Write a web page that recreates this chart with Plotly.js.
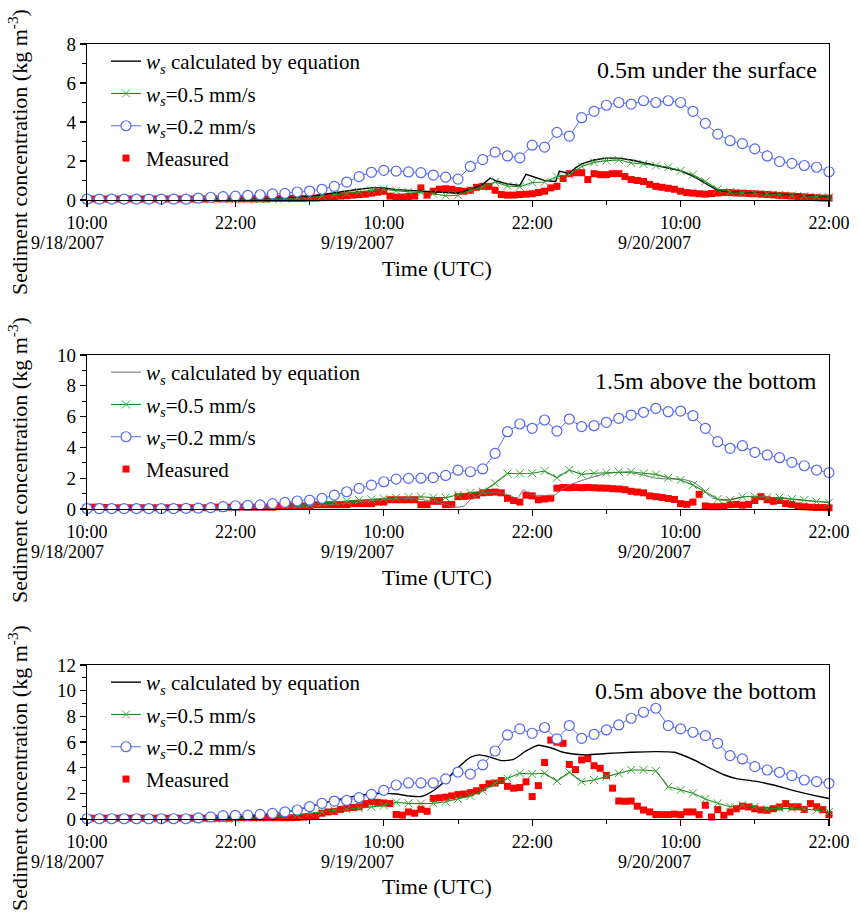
<!DOCTYPE html>
<html><head><meta charset="utf-8">
<script src="https://cdn.plot.ly/plotly-3.0.1.min.js"></script>
<style>html,body{margin:0;padding:0;background:#fff}#chart{width:859px;height:919px}</style>
</head><body><div id="chart"></div>
<script>
// ---------------- DATA ----------------
const tickHours = [0, 12, 24, 36, 48, 60];
const tickLabels = ["10:00", "22:00", "10:00", "22:00", "10:00", "22:00"];
const dateHours = [0, 24, 48];
const dateLabels = ["9/18/2007", "9/19/2007", "9/20/2007"];
const panelLabels = ["0.5m under the surface", "1.5m above the bottom", "0.5m above the bottom"];
const seriesNames = [
  "<i>w</i><sub><i>s</i></sub> calculated by equation",
  "<i>w</i><sub><i>s</i></sub>=0.5 mm/s",
  "<i>w</i><sub><i>s</i></sub>=0.2 mm/s",
  "Measured"
];
const yRanges = [8, 10, 12];

// hours after 10:00 9/18/2007 (hourly model output)
const hours = [0,1,2,3,4,5,6,7,8,9,10,11,12,13,14,15,16,17,18,19,20,21,22,23,24,25,26,27,28,29,30,
  31,32,33,34,35,36,37,38,39,40,41,42,43,44,45,46,47,48,49,50,51,52,53,54,55,56,57,58,59,60];
const measStep = 0.5; // measurements every half hour

// Panel 1: 0.5 m under the surface
const blue1 = [0.05,0.05,0.05,0.05,0.05,0.05,0.05,0.05,0.05,
  0.1,0.14,0.17,0.2,0.24,0.27,0.31,0.34,0.41,0.46,
  0.55,0.7,0.92,1.2,1.42,1.52,1.48,1.44,1.4,1.28,
  1.17,1.07,1.72,2.07,2.46,2.26,2.16,2.81,2.71,3.47,
  3.28,4.22,4.55,4.86,5.0,4.92,5.09,5.0,5.09,5.0,
  4.55,3.93,3.38,3.04,2.89,2.62,2.26,1.97,1.88,1.77,
  1.68,1.45];
const green1 = [0.02,0.02,0.02,0.02,0.02,0.02,0.02,0.02,0.02,0.02,0.02,0.02,0.02,
  0.03,0.04,0.05,0.07,0.1,0.13,0.2,0.27,0.33,0.42,
  0.5,0.55,0.48,0.42,0.38,0.32,0.22,0.24,0.5,0.66,
  0.92,0.72,0.68,0.9,0.92,1.2,1.3,1.72,1.93,2.02,
  2.06,1.9,1.85,1.76,1.68,1.5,1.3,0.95,0.55,0.42,
  0.37,0.33,0.3,0.27,0.23,0.2,0.17,0.14];
const blackT1 = [0,6,10,12,14,16,18,19,20,21,22,23,24,25,26,27,28,29,30,31,32,32.6,33,34,35,35.5,36,37,37.9,38.2,39,39.5,40,41,42,43,44,45,46,47,48,49,50,51,52,54,56,58,60];
const black1 = [0.01,0.01,0.02,0.04,0.06,0.1,
  0.18,0.28,0.38,0.46,0.55,0.62,0.62,0.53,0.5,0.47,0.43,0.38,0.35,0.55,0.8,
  1.12,1.0,0.82,0.75,1.32,1.2,1.0,0.95,1.48,1.35,1.65,
  1.85,2.05,2.15,2.15,2.05,1.92,1.76,1.66,1.5,1.22,0.85,0.5,0.42,
  0.36,0.3,0.22,0.15];
const meas1 = [0.05,0.05,0.05,0.05,0.05,0.05,0.05,0.05,0.05,0.05,0.05,0.05,0.05,0.05,0.05,0.05,0.05,0.05,0.05,0.05,
  0.06,0.06,0.06,0.06,0.06,0.06,0.06,0.06,0.06,0.06,
  0.08,0.08,0.08,0.08,0.08,0.08,
  0.1,0.1,0.12,0.14,0.17,0.2,0.22,0.25,0.28,0.3,0.35,0.4,0.45,
  0.2,0.15,0.15,0.18,0.2,0.62,0.25,0.45,0.55,0.58,0.55,0.48,
  0.45,0.5,0.65,0.7,0.7,0.5,0.28,0.25,0.25,0.28,0.3,0.32,
  0.38,0.45,0.62,0.7,1.1,1.35,1.4,1.4,1.05,1.35,1.3,1.3,
  1.35,1.35,1.2,1.05,1.0,0.95,0.8,0.7,0.65,0.6,0.55,0.45,
  0.38,0.35,0.32,0.3,0.33,0.36,0.38,0.38,0.36,0.35,0.33,0.32,
  0.3,0.28,0.26,0.24,0.22,0.2,0.18,0.16,0.14,0.12,0.1,0.1];

// Panel 2: 1.5 m above the bottom
const blue2 = [0.03,0.03,0.03,0.03,0.03,0.03,0.03,0.03,
  0.04,0.06,0.09,0.15,0.21,0.24,0.27,0.35,0.43,0.52,
  0.57,0.69,0.9,1.12,1.34,1.55,1.77,1.94,1.99,2.0,
  2.04,2.18,2.52,2.42,2.6,3.61,5.02,5.52,5.24,5.78,
  5.06,5.84,5.35,5.41,5.63,5.89,6.1,6.28,6.54,6.32,
  6.36,6.06,5.24,4.37,3.94,4.11,3.68,3.51,3.33,3.03,
  2.81,2.53,2.36];
const green2 = [0.02,0.02,0.02,0.02,0.02,0.02,0.02,0.02,0.02,0.02,
  0.04,0.06,0.09,0.12,0.15,0.18,0.2,0.24,0.3,0.4,
  0.48,0.52,0.58,0.63,0.69,0.73,0.78,0.8,0.74,0.74,
  0.92,1.05,1.13,1.67,2.3,2.32,2.32,2.47,2.03,2.53,
  2.25,2.32,2.36,2.42,2.42,2.32,2.25,2.03,1.88,1.56,
  1.13,0.65,0.58,0.8,0.8,0.74,0.74,0.65,0.58,0.48,
  0.41];
const blackT2 = [0,8,12,16,18,20,22,24,26,28,29,30,30.5,31,32,33,34,34.8,35.3,35.8,37,37.8,38.3,39,40,41,42,43,44,45,46,47,48,49,49.8,50.5,51.5,52.5,53.5,54.5,56,58,60];
const black2 = [0.01,0.02,0.05,0.12,0.18,0.3,0.45,0.6,0.7,0.5,
  0.3,0.12,0.2,0.6,1.0,1.1,0.95,0.7,1.25,0.95,0.88,0.9,1.2,
  1.55,1.85,2.1,2.3,2.38,2.35,2.2,2.0,1.95,1.95,1.75,
  1.3,0.75,0.55,0.7,0.82,0.8,0.7,0.55,0.45];
const meas2 = [0.1,0.12,0.12,0.1,0.08,0.08,0.08,0.08,0.08,0.08,0.08,0.08,0.08,0.08,0.08,0.08,0.08,0.08,0.08,0.08,
  0.12,0.12,0.12,0.12,0.12,0.12,0.12,0.12,0.12,0.12,0.12,
  0.2,0.2,0.2,0.2,0.2,0.2,
  0.28,0.28,0.28,0.28,0.28,0.28,
  0.35,0.35,0.35,0.35,
  0.45,0.45,
  0.6,0.6,0.6,0.6,0.6,
  0.28,0.28,0.5,0.5,0.28,0.3,
  0.8,0.82,0.85,0.9,
  1.05,1.08,1.1,1.05,
  0.69,0.55,0.45,0.9,0.85,0.6,0.65,0.7,
  1.35,1.4,1.38,1.4,1.38,1.4,1.38,1.36,1.35,
  1.32,1.3,1.25,1.15,1.1,1.05,0.85,0.8,0.75,0.68,0.62,
  0.35,0.3,0.45,0.95,0.2,0.15,0.15,0.18,0.28,0.3,0.25,0.3,
  0.55,0.8,0.6,0.5,0.55,0.35,0.3,0.2,0.15,0.12,0.1,0.1,0.08];

// Panel 3: 0.5 m above the bottom
const blue3 = [0.02,0.02,0.02,0.02,0.02,0.02,0.02,0.02,0.02,
  0.08,0.16,0.26,0.29,0.3,0.36,0.44,0.55,0.7,0.96,
  1.22,1.4,1.45,1.66,1.92,2.23,2.65,2.81,2.81,2.81,
  3.12,3.66,3.5,4.21,5.3,6.55,7.02,6.68,7.13,6.24,
  7.28,6.29,6.6,6.94,7.33,7.85,8.32,8.63,7.28,7.02,
  6.76,6.5,5.9,4.94,4.68,4.08,3.82,3.64,3.38,3.04,
  2.91,2.78];
const green3 = [0.02,0.02,0.02,0.02,0.02,0.02,0.02,0.02,0.02,0.02,0.02,0.02,0.02,
  0.05,0.1,0.15,0.22,0.32,0.45,0.55,0.68,0.75,0.83,
  0.96,1.04,1.3,1.22,1.2,1.22,1.35,1.56,1.8,2.2,
  2.78,3.17,3.56,3.51,3.56,2.96,3.64,2.91,3.04,3.3,
  3.56,3.82,3.82,3.74,2.52,2.26,2.0,1.56,1.22,0.96,
  1.09,0.96,0.78,0.85,0.83,0.78,0.68,0.55];
const blackT3 = [0,8,12,14,16,18,19,20,21,22,23,24,25,26,27,28,29,30,31,31.7,32.5,33.5,34.5,35.5,36.5,37.5,38.5,39.5,40.5,42,44,46,47.5,48.5,49.5,50.5,51.5,52.5,54,55.5,57,58.5,60,60.5];
const black3 = [0.01,0.02,0.15,0.3,0.55,
  0.95,1.2,1.45,1.65,1.85,1.95,2.0,1.95,1.8,1.75,2.2,3.0,4.0,4.8,
  5.0,4.85,4.55,4.65,5.3,5.75,5.55,5.2,5.05,5.0,
  5.1,5.2,5.25,5.2,4.85,4.4,3.9,3.45,3.15,
  2.95,2.65,2.25,1.9,1.6,1.5];
const meas3 = [0.06,0.06,0.06,0.06,0.06,0.06,0.06,0.06,0.06,0.06,0.06,0.06,0.06,0.06,0.06,0.06,0.06,0.06,0.06,0.06,0.06,0.06,0.06,0.06,
  0.1,0.1,0.1,0.1,0.1,0.1,0.1,0.1,0.1,0.1,
  0.12,0.15,0.18,0.2,
  0.45,0.55,0.6,0.75,0.85,0.9,0.95,1.2,1.35,1.3,1.25,1.2,
  0.35,0.3,0.55,0.45,0.75,0.6,1.6,1.65,1.7,1.8,1.9,1.95,
  2.05,2.2,2.45,2.75,2.8,3.0,2.55,2.4,2.45,2.9,1.75,2.6,
  4.4,6.15,5.98,5.9,4.25,3.85,4.6,4.7,4.15,3.95,3.4,2.4,
  1.4,1.38,1.4,1.0,0.7,0.55,0.35,0.34,0.34,0.38,0.34,0.55,
  0.55,0.34,1.07,0.16,0.73,0.29,0.55,0.8,1.0,0.94,0.8,0.7,
  0.68,0.8,0.94,1.2,0.95,0.95,0.75,1.2,0.95,0.73,0.34,0.86];

// ---------------- LAYOUT GEOMETRY ----------------
const FONT = '"Liberation Serif", "Times New Roman", serif';
const L = 87, R = 829, T = 44, B = 819;
const px2x = p => (p - L) / (R - L);
const py2y = p => (B - p) / (B - T);
const panelTop = [44, 355, 665];
const panelBot = [200, 509, 819];
const dateShift = [-20, -26, -26];

const panels = [
  {blue: blue1, green: green1, bT: blackT1, black: black1, meas: meas1, bColor: "#000000", bWidth: 1.4, shape: "linear"},
  {blue: blue2, green: green2, bT: blackT2, black: black2, meas: meas2, bColor: "#707070", bWidth: 1.0, shape: "spline"},
  {blue: blue3, green: green3, bT: blackT3, black: black3, meas: meas3, bColor: "#000000", bWidth: 1.4, shape: "spline"}
];

const traces = [];
const layout = {
  width: 859, height: 919,
  margin: {l: L, r: 859 - R, t: T, b: 919 - B},
  paper_bgcolor: "#ffffff", plot_bgcolor: "#ffffff",
  font: {family: FONT, color: "#000000"},
  showlegend: true,
  annotations: []
};

panels.forEach((p, i) => {
  const n = i === 0 ? "" : String(i + 1);
  const xa = "x" + n, ya = "y" + n, lg = "legend" + n;
  const measT = p.meas.map((_, k) => k * measStep);
  traces.push({type: "scatter", mode: "markers", x: measT, y: p.meas, xaxis: xa, yaxis: ya,
    name: seriesNames[3], legend: lg, legendrank: 4, legendgroup: "m" + i, cliponaxis: false,
    marker: {symbol: "square", size: 7, color: "#ff0000"}});
  traces.push({type: "scatter", mode: "lines", x: p.bT, y: p.black, xaxis: xa, yaxis: ya,
    name: seriesNames[0], legend: lg, legendrank: 1, legendgroup: "b" + i,
    line: {color: p.bColor, width: p.bWidth, shape: p.shape, smoothing: 0.6}});
  traces.push({type: "scatter", mode: "lines+markers", x: hours, y: p.green, xaxis: xa, yaxis: ya,
    name: seriesNames[1], legend: lg, legendrank: 2, legendgroup: "g" + i, cliponaxis: false,
    line: {color: "#1f8a1f", width: 1.1},
    marker: {symbol: "x-thin", size: 8, color: "#3aaa3a", line: {color: "#3aaa3a", width: 1}}});
  traces.push({type: "scatter", mode: "lines+markers", x: hours, y: p.blue, xaxis: xa, yaxis: ya,
    name: seriesNames[2], legend: lg, legendrank: 3, legendgroup: "c" + i, cliponaxis: false,
    line: {color: "#5a6cf2", width: 1},
    marker: {symbol: "circle", size: 10, color: "#ffffff", line: {color: "#5466f2", width: 1.2}}});

  const dom = [py2y(panelBot[i]), py2y(panelTop[i])];
  layout["xaxis" + n] = {
    domain: [0, 1], anchor: ya, range: [0, 60],
    tickmode: "array", tickvals: tickHours, ticktext: tickLabels,
    ticks: "outside", ticklen: 6, tickwidth: 1.2, tickcolor: "#000",
    minor: {tickmode: "linear", tick0: 0, dtick: 6, ticks: "outside", ticklen: 3.5, tickwidth: 1, tickcolor: "#000"},
    showline: true, mirror: true, linecolor: "#000", linewidth: 1.2,
    showgrid: false, zeroline: false,
    tickfont: {family: FONT, size: 18, color: "#000"}
  };
  layout["yaxis" + n] = {
    domain: dom, anchor: xa, range: [0, yRanges[i]],
    tickmode: "linear", tick0: 0, dtick: 2,
    ticks: "outside", ticklen: 6, tickwidth: 1.2, tickcolor: "#000",
    minor: {tickmode: "linear", tick0: 0, dtick: 1, ticks: "outside", ticklen: 3.5, tickwidth: 1, tickcolor: "#000"},
    showline: true, mirror: true, linecolor: "#000", linewidth: 1.2,
    showgrid: false, zeroline: false,
    tickfont: {family: FONT, size: 19, color: "#000"}
  };
  layout[lg] = {
    x: px2x(106), y: py2y(panelTop[i] - 3), xref: "paper", yref: "paper",
    xanchor: "left", yanchor: "top", bgcolor: "rgba(0,0,0,0)",
    font: {family: FONT, size: 21, color: "#000"}, tracegroupgap: 2
  };
  // panel label
  layout.annotations.push({text: panelLabels[i], xref: "paper", yref: "paper",
    x: px2x(819), y: py2y(panelTop[i] + 26), xanchor: "right", yanchor: "middle",
    showarrow: false, font: {family: FONT, size: 24, color: "#000"}});
  // date labels under the 10:00 ticks
  dateHours.forEach((h, k) => {
    layout.annotations.push({text: dateLabels[k], xref: xa, yref: "paper",
      x: h, xshift: dateShift[k], y: py2y(panelBot[i] + 43), xanchor: "center", yanchor: "middle",
      showarrow: false, font: {family: FONT, size: 18, color: "#000"}});
  });
  // x axis title
  layout.annotations.push({text: "Time (UTC)", xref: "paper", yref: "paper",
    x: px2x(437), y: py2y(panelBot[i] + 68), xanchor: "center", yanchor: "middle",
    showarrow: false, font: {family: FONT, size: 22, color: "#000"}});
  // y axis title
  layout.annotations.push({text: "Sediment concentration (kg m<sup>-3</sup>)", xref: "paper", yref: "paper",
    x: px2x(18), y: py2y([152, 460, 768][i]), xanchor: "center", yanchor: "middle", textangle: -90,
    showarrow: false, font: {family: FONT, size: 22, color: "#000"}});
});

Plotly.newPlot("chart", traces, layout, {staticPlot: true, displayModeBar: false});
</script></body></html>
